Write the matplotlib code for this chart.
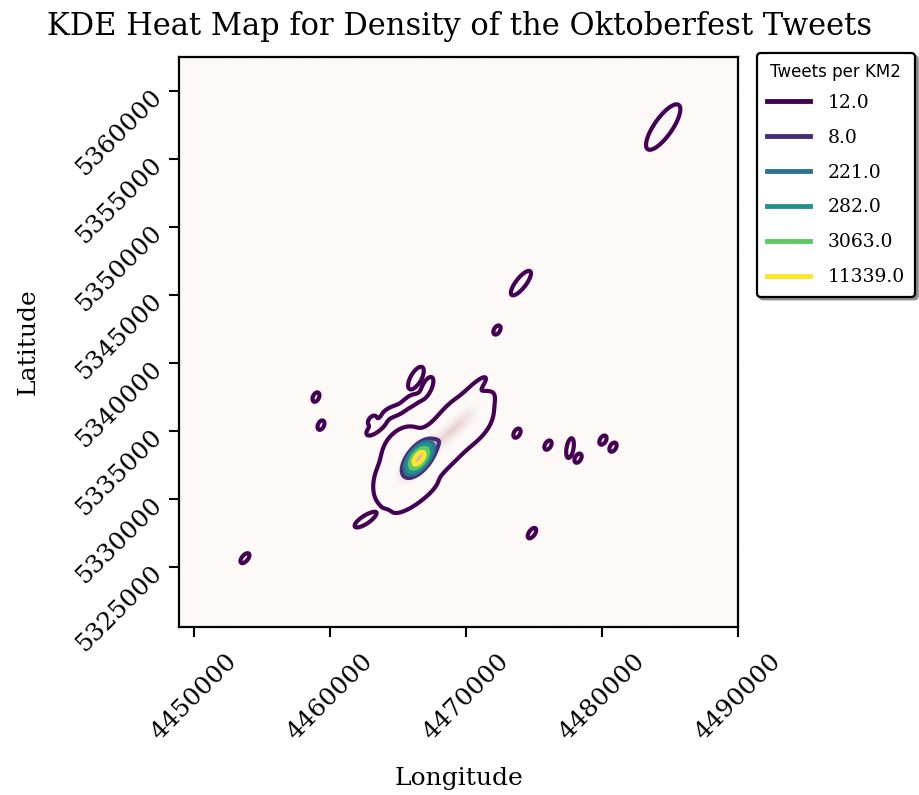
import numpy as np
import matplotlib
matplotlib.use('Agg')
import matplotlib.pyplot as plt
from matplotlib.colors import LinearSegmentedColormap, Normalize
from matplotlib.lines import Line2D

# tweet hotspots (projected metres), with counts and spread
hot_x = [4484500, 4474040, 4472280, 4453750, 4458970, 4459340, 4473750, 4476030,
         4477650, 4478240, 4480070, 4480810, 4474850, 4462570, 4470590, 4466320,
         4463090, 4466320, 4463450, 4464700, 4465950, 4467130,
         4465150, 4466620, 4468090, 4469560, 4470300, 4465000, 4465250,
         4468820, 4466540]
hot_y = [5357350, 5345880, 5342430, 5325660, 5337500, 5335440, 5334850, 5333970,
         5333750, 5333010, 5334340, 5333820, 5327500, 5328460, 5338090, 5330150,
         5335810, 5338900, 5335350, 5336460, 5337200, 5338200,
         5331030, 5332500, 5333970, 5335440, 5336100, 5332130, 5334000,
         5334930, 5333010]
hot_w = [3.08] * 22 + [5.5] * 5 + [4, 5, 22, 400]
hot_sa = [1323, 735, 245, 294, 245, 245, 245, 245, 490, 245, 245, 245, 294, 588,
          784, 980, 245, 620, 640, 560, 560, 560,
          1103, 1103, 1103, 1103, 1000, 1030, 880,
          1618, 720]
hot_sb = [441, 245, 147, 147, 147, 147, 147, 147, 170, 147, 147, 147, 147, 196,
          196, 245, 147, 260, 240, 240, 240, 230,
          809, 809, 809, 809, 760, 735, 560,
          368, 360]
hot_ang = [55, 52, 60, 50, 65, 65, 60, 60, 80, 60, 60, 60, 55, 33,
           45, 35, 50, 60, 40, 20, 30, 65,
           45, 45, 45, 45, 45, 45, 45,
           42, 52]

levels = [1, 32, 65, 110, 195, 310]
level_labels = ['12.0', '8.0', '221.0', '282.0', '3063.0', '11339.0']
level_colors = ['#440154', '#472c7a', '#2c728e', '#21918c', '#5ec962', '#fde725']

xlim = (4448900, 4490000)
ylim = (5320600, 5362500)

# density surface
gx = np.linspace(xlim[0], xlim[1], 1100)
gy = np.linspace(ylim[0], ylim[1], 1120)
X, Y = np.meshgrid(gx, gy)
Z = np.zeros_like(X)
for x0, y0, w, sa, sb, ang in zip(hot_x, hot_y, hot_w, hot_sa, hot_sb, hot_ang):
    t = np.deg2rad(ang)
    dx = X - x0
    dy = Y - y0
    u = dx * np.cos(t) + dy * np.sin(t)
    v = -dx * np.sin(t) + dy * np.cos(t)
    Z += w * np.exp(-0.5 * ((u / sa) ** 2 + (v / sb) ** 2))

fig = plt.figure(figsize=(9.19, 7.95), dpi=100)
ax = fig.add_axes([179 / 919, 168 / 795, 559 / 919, 570 / 795])

pale = LinearSegmentedColormap.from_list('pale', ['#fcf9f7', '#f1e2e0', '#d9b6b6'])
ax.imshow(Z, extent=(xlim[0], xlim[1], ylim[0], ylim[1]), origin='lower',
          cmap=pale, norm=Normalize(vmin=8, vmax=40, clip=True),
          interpolation='bilinear', aspect='auto')
ax.contour(X, Y, Z, levels=levels, colors=level_colors, linewidths=3.0)

ax.set_xlim(xlim)
ax.set_ylim(ylim)
ax.set_xticks([4450000, 4460000, 4470000, 4480000, 4490000])
ax.set_yticks([5325000, 5330000, 5335000, 5340000, 5345000, 5350000, 5355000, 5360000])
ax.ticklabel_format(useOffset=False, style='plain')

serif = 'DejaVu Serif'
ax.tick_params(direction='out', length=7, width=1.5, labelsize=18, pad=9)
for lab in ax.get_xticklabels():
    lab.set_rotation(45)
    lab.set_family(serif)
for lab in ax.get_yticklabels():
    lab.set_rotation(45)
    lab.set_rotation_mode('anchor')
    lab.set_family(serif)
for sp in ax.spines.values():
    sp.set_linewidth(1.6)

ax.set_xlabel('Longitude', family=serif, fontsize=18)
ax.set_ylabel('Latitude', family=serif, fontsize=18)
ax.xaxis.set_label_coords(0.5, -0.245)
ax.yaxis.set_label_coords(-0.25, 0.5)
fig.text(0.5, 1 - 27 / 795, 'KDE Heat Map for Density of the Oktoberfest Tweets',
         family=serif, fontsize=22, ha='center', va='center')

handles = [Line2D([], [], color=c, lw=3.5) for c in level_colors]
leg = ax.legend(handles, level_labels, title='Tweets per KM2',
                loc='upper left', bbox_to_anchor=(757 / 919, 1 - 53 / 795),
                bbox_transform=fig.transFigure, borderaxespad=0,
                prop={'family': serif, 'size': 13.5}, title_fontsize=12,
                labelspacing=0.9, handlelength=2.3, handletextpad=0.9,
                borderpad=0.55, frameon=True, fancybox=True,
                shadow={'color': '0.55', 'alpha': 1},
                framealpha=1, edgecolor='black')
leg.get_frame().set_linewidth(1.6)
leg._legend_box.sep = 9  # tighter gap under the legend title

fig.savefig('out.png', dpi=100)
